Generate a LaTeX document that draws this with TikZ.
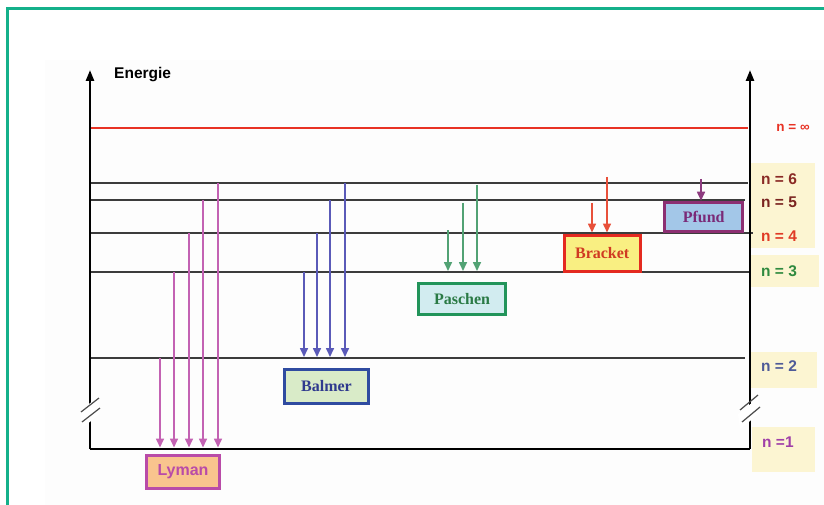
\documentclass[tikz,border=0pt]{standalone}
\usepackage{fontspec}
\setmainfont{Liberation Serif}
\newfontfamily\labfont{Liberation Sans}
\usetikzlibrary{arrows.meta}

\definecolor{frame}{HTML}{14B08A}
\definecolor{lvl}{HTML}{3C3C3C}
\definecolor{inf}{HTML}{E83224}
\definecolor{tagbg}{HTML}{FCF5D2}
\definecolor{lyA}{HTML}{C362B3}
\definecolor{lyF}{HTML}{F9C48E}
\definecolor{lyB}{HTML}{B94BA8}
\definecolor{baA}{HTML}{5A5AB8}
\definecolor{baF}{HTML}{D9EBC8}
\definecolor{baB}{HTML}{2F4BA0}
\definecolor{baT}{HTML}{2F3A8E}
\definecolor{paA}{HTML}{52A274}
\definecolor{paF}{HTML}{D2ECF0}
\definecolor{paB}{HTML}{22945A}
\definecolor{paT}{HTML}{2A7A45}
\definecolor{brA}{HTML}{E8503A}
\definecolor{brF}{HTML}{F9EF82}
\definecolor{brB}{HTML}{E42A20}
\definecolor{brT}{HTML}{D03A22}
\definecolor{pfA}{HTML}{8E3C80}
\definecolor{pfF}{HTML}{A3C7E8}
\definecolor{pfB}{HTML}{8C2F72}
\definecolor{pfT}{HTML}{7A2A78}
\definecolor{nsix}{HTML}{8A2A25}
\definecolor{nfive}{HTML}{7A2420}
\definecolor{nfour}{HTML}{E03A25}
\definecolor{nthree}{HTML}{2F8A3F}
\definecolor{ntwo}{HTML}{4E5A98}
\definecolor{none}{HTML}{A040A8}
\definecolor{panel}{HTML}{FDFDFD}

\tikzset{
  level/.style={draw=lvl, line width=1.5pt},
  axis/.style={line width=2.4pt, -{Triangle[width=8pt,length=11pt]}},
  trans/.style={line width=1.6pt, -{Triangle[width=8pt,length=9pt]}},
  series/.style={line width=3pt, inner sep=0pt, font=\bfseries\fontsize{16}{16}\selectfont},
  tag/.style={font=\labfont\bfseries\fontsize{15.5}{15.5}\selectfont, inner sep=0pt},
}

\begin{document}
\begin{tikzpicture}[x=1pt, y=-1pt]
\useasboundingbox (0,0) rectangle (824,505);
\fill[white] (0,0) rectangle (824,505);
% faint panel behind the diagram
\fill[panel] (45,60) rectangle (824,505);

% frame
\draw[frame, line width=3pt] (7,505) -- (7,9) -- (824,9);

% label backgrounds
\fill[tagbg] (751,163) rectangle (815,248);
\fill[tagbg] (751,255) rectangle (819,287);
\fill[tagbg] (750,352) rectangle (817,388);
\fill[tagbg] (752,427) rectangle (815,472);

% energy levels
\coordinate (Linf) at (90,128);
\coordinate (L6) at (90,183);
\coordinate (L5) at (90,200);
\coordinate (L4) at (90,233);
\coordinate (L3) at (90,272);
\coordinate (L2) at (90,358);
\coordinate (L1) at (90,449);
\draw[inf, line width=2.2pt] (Linf) -- (748,128);
\draw[level] (L6) -- (748,183);
\draw[level] (L5) -- (745,200);
\draw[level] (L4) -- (753,233);
\draw[level] (L3) -- (750,272);
\draw[level] (L2) -- (745,358);
\draw[line width=2.4pt, black] (L1) -- (750,449);

% axes
\coordinate (axL) at (90,70);
\coordinate (axR) at (750,70);
\draw[axis] (L1 -| axL) -- (axL);
\draw[axis] (750,449) -- (axR);
\node[font=\labfont\bfseries\fontsize{15.5}{15.5}\selectfont, anchor=west, inner sep=0pt] (energie) at (114,75) {Energie};

% axis breaks
\fill[white] (80,411) -- (98,397) -- (100,414) -- (82,428) -- cycle;
\fill[white] (738,414) -- (758,398) -- (760,413) -- (740,429) -- cycle;
\draw[black!70, line width=1.2pt] (81,412) -- (99,398) (82,422) -- (100,408);
\draw[black!70, line width=1.2pt] (740,410) -- (758,395) (742,422) -- (760,407);

% series boxes
\node[series, draw=lyB, fill=lyF, text=lyB, font=\labfont\bfseries\fontsize{16}{16}\selectfont,
      minimum width=73pt, minimum height=33pt] (lyman) at (183,472) {Lyman};
\node[series, draw=baB, fill=baF, text=baT, minimum width=84pt, minimum height=34pt] (balmer) at (326.5,386.5) {Balmer};
\node[series, draw=paB, fill=paF, text=paT, minimum width=87.5pt, minimum height=31pt] (paschen) at (462,299) {Paschen};
\node[series, draw=brB, fill=brF, text=brT, minimum width=76pt, minimum height=35.5pt] (bracket) at (602.2,253.3) {Bracket};
\node[series, draw=pfB, fill=pfF, text=pfT, minimum width=77.5pt, minimum height=29.5pt] (pfund) at (703.7,217) {Pfund};

% Lyman series (to n = 1)
\foreach \x/\top in {160/358, 174/272, 189/233, 203/200, 218/183}
  \draw[trans, lyA] (\x,\top) -- (\x,447.5);
% Balmer series (to n = 2)
\foreach \x/\top in {304/272, 317/233, 330/200, 345/183}
  \draw[trans, baA] (\x,\top) -- (\x,357);
% Paschen series (to n = 3)
\foreach \x/\top in {448/230, 463/203, 477/185}
  \draw[trans, paA] (\x,\top) -- (\x,271);
% Brackett series (to n = 4)
\foreach \x/\top in {592/203, 607/177}
  \draw[trans, brA] (\x,\top) -- (\x,232.5);
% Pfund series (to n = 5)
\coordinate (pftop) at (701,179);
\draw[trans, pfA] (pftop) -- (pfund.north -| pftop);

% level labels
\node[tag, text=inf, font=\labfont\bfseries\fontsize{13.5}{13.5}\selectfont] (tinf) at (793,128) {n = ∞};
\node[tag, text=nsix] (t6) at (779,179) {n = 6};
\node[tag, text=nfive] (t5) at (779,202) {n = 5};
\node[tag, text=nfour] (t4) at (779,236) {n = 4};
\node[tag, text=nthree] (t3) at (779,271) {n = 3};
\node[tag, text=ntwo] (t2) at (779,366) {n = 2};
\node[tag, text=none, anchor=west] (t1) at (762,442) {n =1};
\end{tikzpicture}
\end{document}
